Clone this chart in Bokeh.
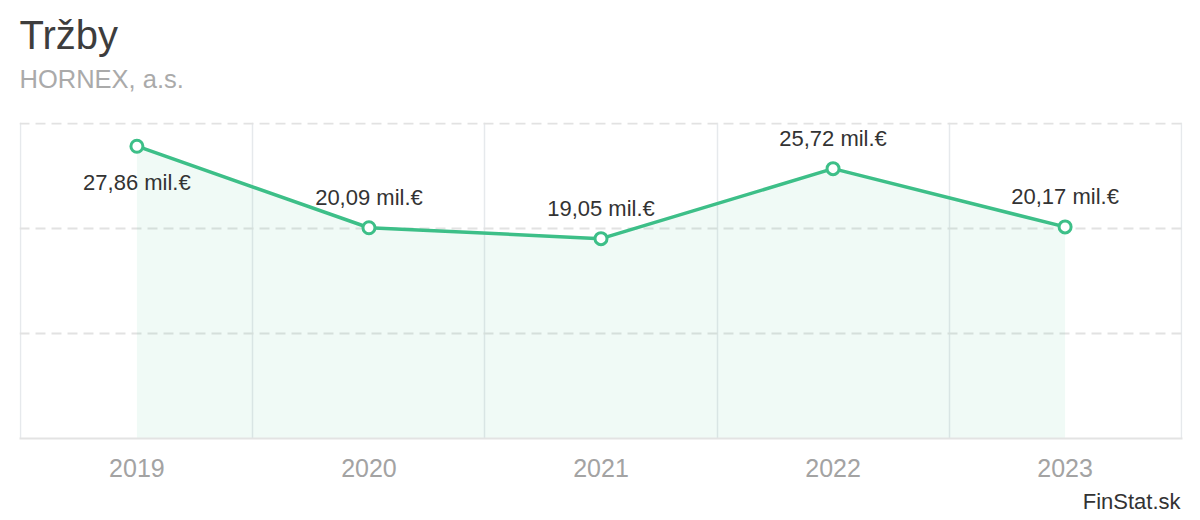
from bokeh.plotting import figure
from bokeh.models import Range1d, FixedTicker, ColumnDataSource, Title
from bokeh.embed import file_html
from bokeh.resources import INLINE
from bokeh.core.properties import value

# ---- data ----
years = ["2019", "2020", "2021", "2022", "2023"]
revenue = [27.86, 20.09, 19.05, 25.72, 20.17]   # mil. €
labels = ["27,86 mil.€", "20,09 mil.€", "19,05 mil.€", "25,72 mil.€", "20,17 mil.€"]
y_ticks = [0, 10, 20, 30]
title_text = "Tržby"
subtitle_text = "HORNEX, a.s."
credit_text = "FinStat.sk"

GREEN = "#3dbf88"
FONT = "Liberation Sans"

xs = list(range(len(years)))
y_max = max(y_ticks)

W, H = 1200, 520
BL, BR, BT, BB = 19, 18, 122, 82
pad_x = 0.006   # small padding so edge grid lines are drawn inside the frame
pad_y = 0.004

p = figure(width=W, height=H, output_backend="svg", toolbar_location=None,
           x_range=Range1d(-0.5 - pad_x, len(years) - 0.5 + pad_x),
           y_range=Range1d(0, y_max * (1 + pad_y)),
           y_axis_location=None, x_axis_location="below",
           min_border_left=BL, min_border_right=BR, min_border_top=BT, min_border_bottom=BB,
           background_fill_color="white", border_fill_color="white")
p.outline_line_color = None

# x axis
xa = p.xaxis[0]
xa.ticker = FixedTicker(ticks=xs)
xa.major_label_overrides = {i: y for i, y in enumerate(years)}
xa.major_tick_line_color = None
xa.minor_tick_line_color = None
xa.axis_line_color = "#e3e3e3"
xa.axis_line_width = 2
xa.major_label_text_font = FONT
xa.major_label_text_font_size = "25px"
xa.major_label_text_color = "#a3a3a3"
xa.major_label_standoff = 14

# vertical category boundaries (incl. left/right edges)
p.xgrid.ticker = FixedTicker(ticks=[i - 0.5 for i in range(len(years) + 1)])
p.xgrid.grid_line_color = "#e6e9ec"
p.xgrid.grid_line_width = 1.5

# horizontal dashed grid
p.ygrid.ticker = FixedTicker(ticks=[t for t in y_ticks if t > 0])
p.ygrid.grid_line_color = "#e2e2e2"
p.ygrid.grid_line_width = 2
p.ygrid.grid_line_dash = "10 6"

src = ColumnDataSource(dict(x=xs, y=revenue, label=labels,
                            off=[36 if v > 0.9 * y_max else -30 for v in revenue]))

p.varea(x="x", y1=0, y2="y", source=src, fill_color=GREEN, fill_alpha=0.08)
p.line(x="x", y="y", source=src, line_color=GREEN, line_width=3.5)
p.scatter(x="x", y="y", source=src, size=12, fill_color="white",
          line_color=GREEN, line_width=3)
p.text(x="x", y="y", text="label", source=src, y_offset="off",
       text_align="center", text_baseline="middle",
       text_font=value(FONT), text_font_size="22px", text_color="#333333")

# titles & credit (stacked outward from the plot frame)
p.add_layout(Title(text=" ", align="left", text_font=FONT, text_font_size="1px",
                   text_color="white", standoff=27, offset=0), "above")   # spacer
p.add_layout(Title(text=subtitle_text, align="left", text_font=FONT, text_font_size="25.5px",
                   text_font_style="normal", text_color="#aaaaaa", standoff=0, offset=0), "above")
p.add_layout(Title(text=title_text, align="left", text_font=FONT, text_font_size="40px",
                   text_font_style="normal", text_color="#3d3d3d", standoff=11, offset=0), "above")
p.add_layout(Title(text=credit_text, align="right", text_font=FONT, text_font_size="22px",
                   text_font_style="normal", text_color="#333333", standoff=14, offset=2), "below")

open("out.html", "w").write(file_html(p, INLINE))
